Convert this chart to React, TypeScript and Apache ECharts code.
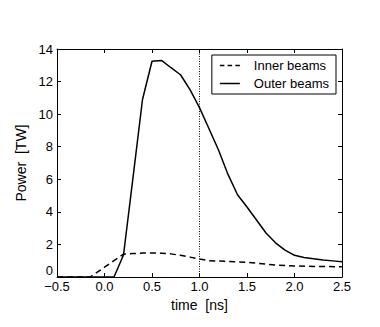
import React, { useEffect, useRef } from "react";
import * as echarts from "echarts";

const outerTimes = [-0.5, -0.4, -0.3, -0.2, -0.1, 0.0, 0.1, 0.2, 0.3, 0.4, 0.5, 0.6, 0.7, 0.8, 0.9, 1.0, 1.1, 1.2, 1.3, 1.4, 1.5, 1.6, 1.7, 1.8, 1.9, 2.0, 2.1, 2.2, 2.3, 2.4, 2.5];
const outerPower = [0, 0, 0, 0, 0, 0, 0, 1.35, 6.1, 10.9, 13.25, 13.3, 12.85, 12.42, 11.5, 10.4, 9.1, 7.8, 6.3, 5.05, 4.3, 3.5, 2.7, 2.1, 1.65, 1.33, 1.2, 1.12, 1.04, 0.99, 0.94];

const innerTimes = [-0.5, -0.3, -0.15, 0.0, 0.1, 0.2, 0.3, 0.4, 0.5, 0.6, 0.7, 0.8, 0.9, 1.0, 1.1, 1.2, 1.3, 1.4, 1.5, 1.6, 1.7, 1.8, 1.9, 2.0, 2.2, 2.5];
const innerPower = [0, 0, 0, 0.6, 1.0, 1.4, 1.44, 1.47, 1.48, 1.46, 1.42, 1.33, 1.22, 1.1, 1.0, 0.98, 0.96, 0.93, 0.9, 0.85, 0.79, 0.74, 0.7, 0.68, 0.65, 0.63];

const markerTime = 1.0;
const xTicks = { min: -0.5, max: 2.5, interval: 0.5 };
const yTicks = { min: 0, max: 14, interval: 2 };

const FONT = "Liberation Sans";
const DASH_ICON = "path://M0,0h4.5v1.5h-4.5z M7.75,0h4.5v1.5h-4.5z M15.5,0h4.5v1.5h-4.5z";
const SOLID_ICON = "path://M0,0h20v1.5h-20z";

export default function App() {
  const ref = useRef<HTMLDivElement>(null);
  useEffect(() => {
    if (!ref.current) return;
    const chart = echarts.init(ref.current, undefined, { renderer: "svg" });
    const axisCommon = {
      axisLine: { show: true, onZero: false, lineStyle: { color: "#000", width: 1 } },
      axisTick: { show: true, inside: true, length: 4, lineStyle: { color: "#000" } },
      splitLine: { show: false },
    };
    const fmtX = (v: number) => (v < 0 ? "\u2212" + Math.abs(v).toFixed(1) : v.toFixed(1));
    chart.setOption({
      animation: false,
      backgroundColor: "#fff",
      textStyle: { fontFamily: FONT },
      grid: { left: 57, right: 38, top: 49, bottom: 50 },
      legend: {
        orient: "vertical",
        right: 44,
        top: 55,
        padding: [4, 7, 4, 8],
        itemWidth: 20,
        itemHeight: 1.5,
        itemGap: 5,
        borderColor: "#000",
        borderWidth: 1,
        backgroundColor: "#fff",
        borderRadius: 0,
        itemStyle: { color: "#000", borderWidth: 0 },
        textStyle: { fontFamily: FONT, fontSize: 13, color: "#000", padding: [0, 0, 0, 9] },
        data: [
          { name: "Inner beams", icon: DASH_ICON },
          { name: "Outer beams", icon: SOLID_ICON },
        ],
      },
      xAxis: [
        {
          type: "value",
          ...xTicks,
          ...axisCommon,
          name: "time  [ns]",
          nameLocation: "middle",
          nameGap: 14,
          nameTextStyle: { fontFamily: FONT, fontSize: 14, color: "#000", verticalAlign: "top" },
          axisLabel: { color: "#000", fontFamily: FONT, fontSize: 13, margin: 3, formatter: fmtX },
        },
        {
          type: "value",
          position: "top",
          ...xTicks,
          ...axisCommon,
          axisLabel: { show: false },
        },
      ],
      yAxis: [
        {
          type: "value",
          ...yTicks,
          ...axisCommon,
          name: "Power  [TW]",
          nameLocation: "middle",
          nameGap: 25,
          nameTextStyle: { fontFamily: FONT, fontSize: 14, color: "#000" },
          axisLabel: {
            color: "#000",
            fontFamily: FONT,
            fontSize: 13,
            margin: 4,
            verticalAlignMinLabel: "bottom",
            lineHeight: 13,
          },
        },
        {
          type: "value",
          position: "right",
          ...yTicks,
          ...axisCommon,
          axisLabel: { show: false },
        },
      ],
      series: [
        {
          name: "Inner beams",
          type: "line",
          showSymbol: false,
          symbol: "none",
          data: innerTimes.map((t, i) => [t, innerPower[i]]),
          lineStyle: { color: "#000", width: 1.5, type: [6, 4] },
          itemStyle: { color: "#000" },
        },
        {
          name: "Outer beams",
          type: "line",
          showSymbol: false,
          symbol: "none",
          data: outerTimes.map((t, i) => [t, outerPower[i]]),
          lineStyle: { color: "#000", width: 1.5, type: "solid" },
          itemStyle: { color: "#000" },
        },
        {
          name: "marker",
          type: "line",
          showSymbol: false,
          symbol: "none",
          data: [
            [markerTime, yTicks.min],
            [markerTime, yTicks.max],
          ],
          lineStyle: { color: "#000", width: 1, type: [1, 1.5] },
          silent: true,
        },
      ],
    });
    return () => chart.dispose();
  }, []);
  return <div ref={ref} style={{ width: 380, height: 327, position: "absolute", left: 0, top: 0 }} />;
}
